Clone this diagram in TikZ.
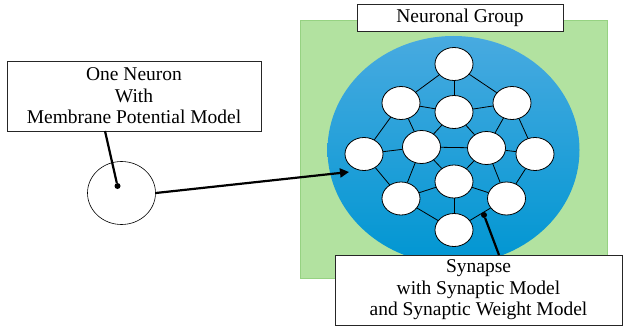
\documentclass[tikz,border=0pt]{standalone}
\usepackage{fontspec}
\setmainfont{Liberation Serif}
\usetikzlibrary{shapes.geometric,arrows.meta}
\definecolor{grp}{RGB}{178,226,160}
\definecolor{grpb}{RGB}{150,210,130}
\definecolor{bluetop}{RGB}{72,170,224}
\definecolor{bluebot}{RGB}{0,150,210}
\tikzset{
  neuron/.style={ellipse, draw=black, fill=white, line width=0.8pt, minimum width=38pt, minimum height=33pt, inner sep=0pt},
  syn/.style={line width=0.8pt},
  label box/.style={draw=black!85, fill=white, line width=0.8pt, align=center, inner sep=0pt, font=\fontsize{19.5}{21.5}\selectfont},
  pointer/.style={line width=2.2pt},
  blackdot/.style={circle, fill=black, minimum size=6pt, inner sep=0pt}
}
\begin{document}
\begin{tikzpicture}[x=1pt,y=-1pt]
\useasboundingbox (0,0) rectangle (623,329);
% neuronal group background
\node[draw=grpb, fill=grp, line width=0.8pt, minimum width=307pt, minimum height=258pt, inner sep=0pt] (grpbg) at (453.5,149) {};
\node[ellipse, top color=bluetop, bottom color=bluebot, minimum width=252pt, minimum height=228pt, inner sep=0pt] (blob) at (453.5,150) {};
% neurons
\node[neuron] (n1) at (454,64) {};
\node[neuron] (n2) at (401,103) {};
\node[neuron] (n3) at (454,112) {};
\node[neuron] (n4) at (512,103) {};
\node[neuron] (n5) at (364,154) {};
\node[neuron] (n6) at (421.5,147) {};
\node[neuron] (n7) at (486.5,148) {};
\node[neuron] (n8) at (535,154) {};
\node[neuron] (n9) at (454,181.5) {};
\node[neuron] (n10) at (401,198.5) {};
\node[neuron] (n11) at (506.5,198.5) {};
\node[neuron] (n12) at (454,230) {};
% synapses
\foreach \a/\b in {n1/n2,n1/n3,n1/n4,n2/n3,n3/n4,n2/n5,n2/n6,n3/n6,n3/n7,n4/n7,n4/n8,
  n5/n6,n6/n7,n7/n8,n5/n10,n6/n10,n6/n9,n7/n9,n7/n11,n8/n11,n9/n10,n9/n11,n9/n12,n10/n12,n11/n12}
  \draw[syn] (\a) -- (\b);
% labels
\node[label box, minimum width=206pt, minimum height=27pt] (grplabel) at (460,17.5) {Neuronal Group};
\node[label box, minimum width=254pt, minimum height=70pt] (onebox) at (134,96) {One Neuron\\With\\Membrane Potential Model};
\node[label box, minimum width=287pt, minimum height=70pt] (synbox) at (478.5,290) {Synapse\\with Synaptic Model\\and Synaptic Weight Model};
% single neuron
\node[ellipse, draw=black, fill=white, line width=0.6pt, minimum width=68pt, minimum height=63pt, inner sep=0pt] (n0) at (121.5,193) {};
\node[blackdot] (dot0) at (117.5,186) {};
\coordinate (onefoot) at (105,131);
\draw[pointer] (onefoot) -- (dot0);
% arrow into group
\coordinate (tip) at (349,172);
\draw[pointer, -{Triangle[length=9pt,width=9pt]}] (n0.east) -- (tip);
% synapse pointer
\node[blackdot] (dot1) at (484,215) {};
\coordinate (synfoot) at (499,255);
\draw[pointer] (dot1) -- (synfoot);
\end{tikzpicture}
\end{document}
